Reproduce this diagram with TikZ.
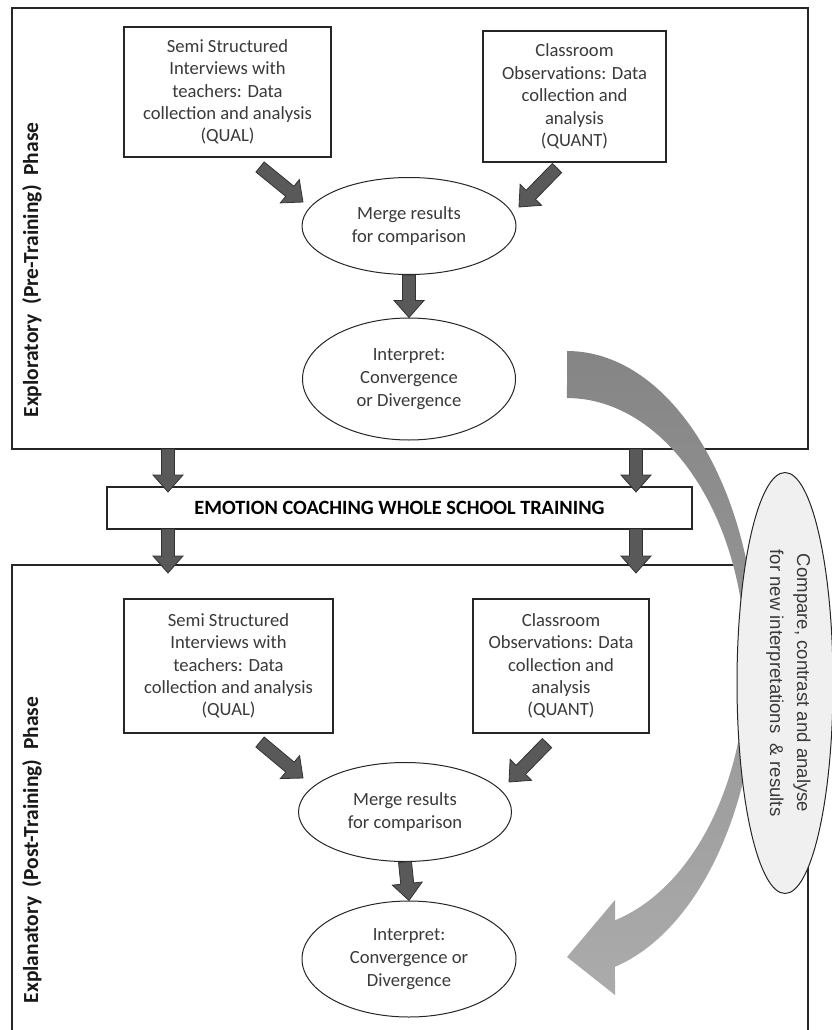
\documentclass[tikz,border=0pt]{standalone}
\usepackage{fontspec}
\setmainfont{Carlito}
\newfontfamily\bubblefont{Liberation Sans}
\usetikzlibrary{calc,shapes.geometric}

\definecolor{blockfill}{HTML}{595959}
\definecolor{textgray}{HTML}{3A3A3A}
\definecolor{curvetop}{HTML}{858585}
\definecolor{curvebot}{HTML}{ABABAB}
\definecolor{bubblefill}{HTML}{F0F0F0}

\tikzset{
  frame/.style={draw=black!85, line width=1.3pt},
  stagebox/.style={draw=black!85, line width=1.3pt, fill=white, align=center,
    text=textgray, font=\fontsize{18.6}{22.4}\selectfont, inner sep=0pt},
  stageoval/.style={ellipse, draw=black!85, line width=1pt, fill=white, align=center,
    text=textgray, font=\fontsize{18.6}{23}\selectfont, inner sep=0pt},
  phaselabel/.style={rotate=90, font=\bfseries\fontsize{21.5}{24}\selectfont, text=black!90},
  blockarrow/.style={fill=blockfill, draw=black!80, line width=0.8pt, line join=miter},
}

% block arrow from #1 to #2: shaft 13, head 30 wide and 17 long
\newcommand\blockarrow[2]{%
  \draw[blockarrow]
    ($(#1)!6.5pt!90:(#2)$) --
    ($(#2)!17pt!(#1)!6.5pt!90:(#2)$) --
    ($(#2)!17pt!(#1)!15pt!90:(#2)$) --
    (#2) --
    ($(#2)!17pt!(#1)!15pt!-90:(#2)$) --
    ($(#2)!17pt!(#1)!6.5pt!-90:(#2)$) --
    ($(#1)!6.5pt!-90:(#2)$) -- cycle;}

\begin{document}
\begin{tikzpicture}[x=1pt,y=-1pt]
\useasboundingbox (0,0) rectangle (832,1030);
\clip (0,0) rectangle (832,1030);

% phase frames
\node[frame, minimum width=796pt, minimum height=441pt, inner sep=0pt] (pre) at (410,228.5) {};
\node[frame, minimum width=796pt, minimum height=480pt, inner sep=0pt] (post) at (410,805) {};

% phase labels
\node[phaselabel] (prelabel) at (32,270) {Exploratory\ \ (Pre-Training)\ \ Phase};
\node[phaselabel] (postlabel) at (32,850) {Explanatory\ \ (Post-Training)\ \ Phase};

% exploratory stage
\node[stagebox, minimum width=207pt, minimum height=130pt] (qual1) at (227.5,92)
  {Semi Structured\\Interviews with\\teachers: Data\\collection and analysis\\(QUAL)};
\node[stagebox, minimum width=183pt, minimum height=131pt] (quant1) at (574.5,96.5)
  {Classroom\\Observations: Data\\collection and\\analysis\\(QUANT)};
\node[stageoval, minimum width=214pt, minimum height=97pt] (merge1) at (409,226)
  {Merge results\\for comparison};
\node[stageoval, minimum width=213pt, minimum height=122pt] (interp1) at (409,379)
  {Interpret:\\Convergence\\or Divergence};

% training
\node[stagebox, minimum width=585pt, minimum height=42pt, text=black,
  font=\bfseries\fontsize{20.3}{22}\selectfont] (train) at (399.5,508)
  {EMOTION COACHING WHOLE SCHOOL TRAINING};

% explanatory stage
\node[stagebox, minimum width=209pt, minimum height=134pt] (qual2) at (228.5,666)
  {Semi Structured\\Interviews with\\teachers: Data\\collection and analysis\\(QUAL)};
\node[stagebox, minimum width=176pt, minimum height=134pt] (quant2) at (561,666)
  {Classroom\\Observations: Data\\collection and\\analysis\\(QUANT)};
\node[stageoval, minimum width=213pt, minimum height=99pt] (merge2) at (405,812)
  {Merge results\\for comparison};
\node[stageoval, minimum width=214pt, minimum height=116pt] (interp2) at (409,959)
  {Interpret:\\Convergence or\\Divergence};

% arrow end points
\coordinate (q1s) at (260,167);   \coordinate (m1w) at (303,202);
\coordinate (n1s) at (557,168);   \coordinate (m1e) at (519,207);
\coordinate (q2s) at (260,742);   \coordinate (m2w) at (303,778);
\coordinate (n2s) at (547,743);   \coordinate (m2e) at (509,782);
\coordinate (preL) at (168,449);  \coordinate (trainLt) at (168,492);
\coordinate (preR) at (636,449);  \coordinate (trainRt) at (636,492);
\coordinate (trainLb) at (168,529); \coordinate (postL) at (168,573);
\coordinate (trainRb) at (636,529); \coordinate (postR) at (636,573);

\blockarrow{q1s}{m1w}
\blockarrow{n1s}{m1e}
\blockarrow{merge1.south}{interp1.north}
\blockarrow{preL}{trainLt}
\blockarrow{preR}{trainRt}
\blockarrow{trainLb}{postL}
\blockarrow{trainRb}{postR}
\blockarrow{q2s}{m2w}
\blockarrow{n2s}{m2e}
\blockarrow{merge2.south}{interp2.north}

% curved feedback arrow
\shade[top color=curvetop, bottom color=curvebot]
  (567,351) arc[start angle=-90, end angle=75.37, x radius=190, y radius=313]
  -- (615,995) -- (567,957) -- (615,900) -- (615,920.3)
  arc[start angle=74.44, end angle=-90, x radius=179, y radius=266] -- cycle;

% comparison bubble
\node[ellipse, draw=black!85, line width=1pt, fill=bubblefill, minimum width=96pt,
  minimum height=421pt, inner sep=0pt] (compare) at (785,683) {};
\node[rotate=-90, align=center, text=textgray,
  font=\bubblefont\fontsize{18.6}{27}\selectfont] (comparetext) at (788.5,683)
  {Compare, contrast and analyse\\for new interpretations\ \ \& results};

\end{tikzpicture}
\end{document}
